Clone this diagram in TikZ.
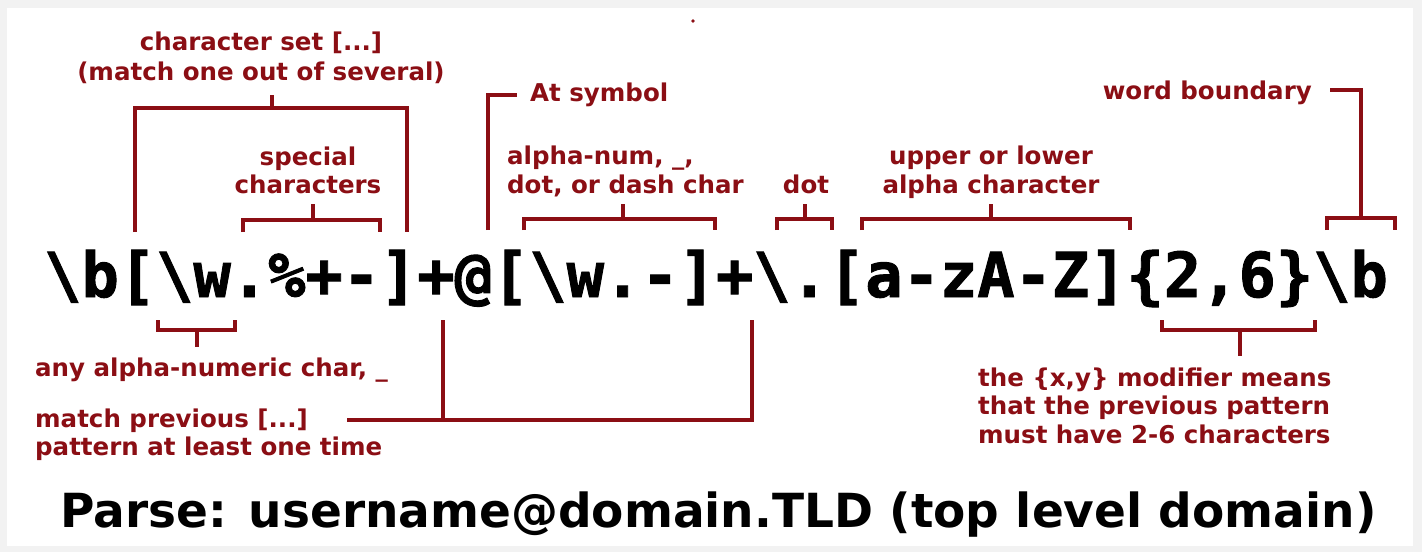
\documentclass[tikz,border=0pt]{standalone}
\usepackage{fontspec}
\setmainfont{DejaVu Sans}
\newfontfamily\regexfont{DejaVu Sans Mono}[BoldFeatures={FakeBold=1.5}]
\definecolor{dred}{RGB}{139,14,20}
\definecolor{frame}{RGB}{242,242,242}
\begin{document}
\begin{tikzpicture}[x=1pt,y=-1pt,
  lbl/.style={font=\fontsize{24.5}{29}\selectfont\bfseries, text=dred, inner sep=0pt},
  brk/.style={draw=dred, line width=3.8pt, line join=miter, line cap=butt},
  rx/.style={font=\regexfont\bfseries\fontsize{62}{62}\selectfont, inner sep=0pt},
  ttl/.style={font=\fontsize{47}{47}\selectfont\bfseries, inner sep=0pt}]
\useasboundingbox (0,0) rectangle (1422,552);
\fill[frame] (0,0) rectangle (1422,552);
\fill[white] (7,8) rectangle (1413,546);
\fill[dred] (693,21) circle (1.8);

% regex
\node[rx, anchor=base west] (rx) at (44,297)
  {\textbackslash b[\textbackslash w.\%+-]+@[\textbackslash w.-]+\textbackslash.[a-zA-Z]\{2,6\}\textbackslash b};

% labels (base anchor = baseline of last line)
\node[lbl, align=center, anchor=base, font=\fontsize{24.5}{30}\selectfont\bfseries] (cs) at (261,80)
  {character set [...]\\(match one out of several)};
\node[lbl, align=center, anchor=base, font=\fontsize{24.5}{28}\selectfont\bfseries] (sp) at (308,193) {special\\characters};
\node[lbl, anchor=base west] (at) at (530,101) {At symbol};
\node[lbl, align=left, anchor=base west] (an) at (507,193) {alpha-num, \_,\\dot, or dash char};
\node[lbl, anchor=base] (dot) at (806,193) {dot};
\node[lbl, align=center, anchor=base] (ul) at (991,193) {upper or lower\\alpha character};
\node[lbl, anchor=base east] (wb) at (1312,99) {word boundary};
\node[lbl, anchor=base west] (aa) at (35,376) {any alpha-numeric char, \_};
\node[lbl, align=left, anchor=base west, font=\fontsize{24.5}{28}\selectfont\bfseries] (mp) at (35,455) {match previous [...]\\pattern at least one time};
\node[lbl, align=left, anchor=base west, font=\fontsize{24.5}{28.5}\selectfont\bfseries] (xy) at (978,443)
  {the \{x,y\} modifier means\\that the previous pattern\\must have 2-6 characters};
\node[ttl, anchor=base west] (parse) at (60,527) {Parse: username@domain.TLD (top level domain)};

% coordinates for stems
\coordinate (csS) at (272,95);
\coordinate (spS) at (313,204);
\coordinate (atS) at (517,95);
\coordinate (anS) at (623,204);
\coordinate (dotS) at (805,204);
\coordinate (ulS) at (991,204);
\coordinate (wbS) at (1330,90);
\coordinate (aaS) at (197,347);
\coordinate (mpS) at (347,420);
\coordinate (xyS) at (1240,356);

% top brackets
\draw[brk] (135,232) -- (135,108) -- (407,108) -- (407,232);
\draw[brk] (272,108) -- (csS);
\draw[brk] (243,232) -- (243,220) -- (380,220) -- (380,232);
\draw[brk] (313,220) -- (spS);
\draw[brk] (488,230) -- (488,95) -- (atS);
\draw[brk] (524,230) -- (524,219) -- (715,219) -- (715,230);
\draw[brk] (623,219) -- (anS);
\draw[brk] (777,230) -- (777,219) -- (832,219) -- (832,230);
\draw[brk] (805,219) -- (dotS);
\draw[brk] (862,230) -- (862,219) -- (1130,219) -- (1130,230);
\draw[brk] (991,219) -- (ulS);
\draw[brk] (1327,230) -- (1327,218) -- (1395,218) -- (1395,230);
\draw[brk] (1361,218) -- (1361,90) -- (wbS);

% bottom brackets
\draw[brk] (158,320) -- (158,330) -- (235,330) -- (235,320);
\draw[brk] (197,330) -- (aaS);
\draw[brk] (443,320) -- (443,420);
\draw[brk] (752,320) -- (752,420) -- (mpS);
\draw[brk] (1162,320) -- (1162,330) -- (1315,330) -- (1315,320);
\draw[brk] (1240,330) -- (xyS);
\end{tikzpicture}
\end{document}
